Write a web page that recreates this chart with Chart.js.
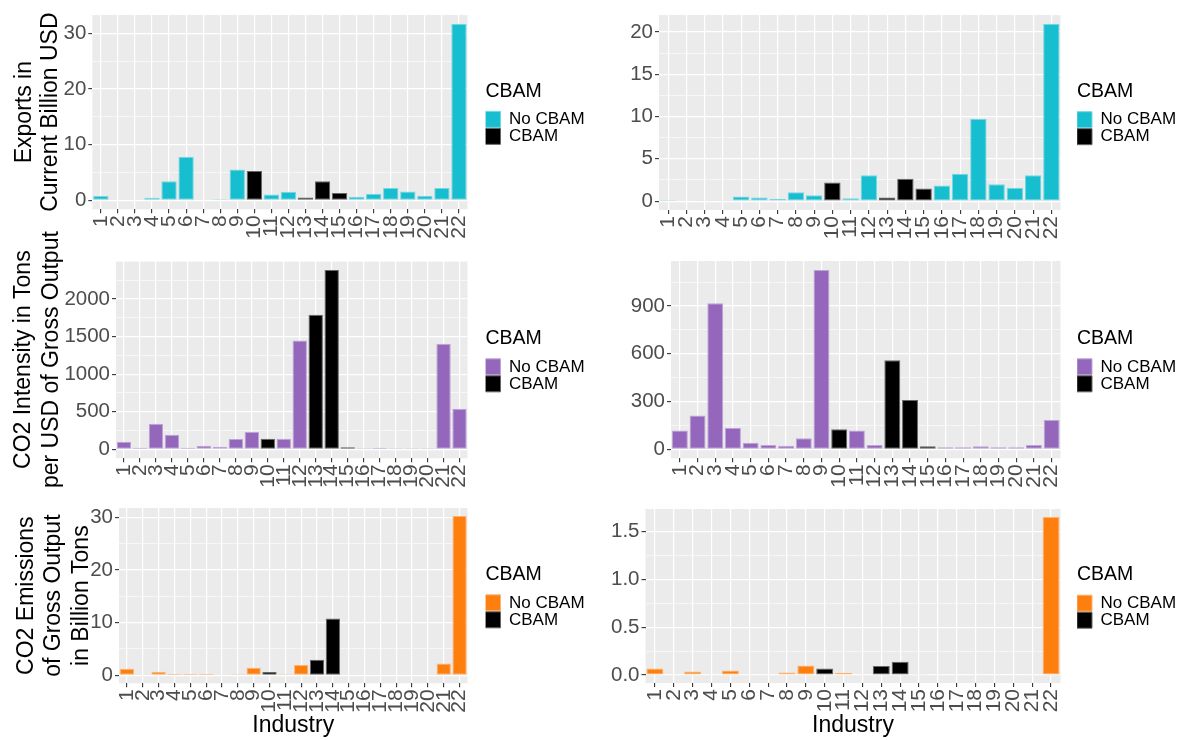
<!DOCTYPE html>
<html>
<head>
<meta charset="utf-8">
<script src="https://cdn.jsdelivr.net/npm/chart.js@4.4.1/dist/chart.umd.min.js"></script>
<style>
  html, body { margin: 0; padding: 0; background: #ffffff; }
  body { width: 1189px; height: 740px; position: relative; overflow: hidden; }
  canvas { position: absolute; top: 0; }
</style>
</head>
<body>
<canvas id="p1" width="600" height="740" style="left:0px"></canvas>
<canvas id="p2" width="589" height="740" style="left:600px"></canvas>
<canvas id="p3" width="600" height="740" style="left:0px"></canvas>
<canvas id="p4" width="589" height="740" style="left:600px"></canvas>
<canvas id="p5" width="600" height="740" style="left:0px"></canvas>
<canvas id="p6" width="589" height="740" style="left:600px"></canvas>
<script>
// industries 1..22, the CBAM ones are drawn black
const industries = ['1', '2', '3', '4', '5', '6', '7', '8', '9', '10', '11',
  '12', '13', '14', '15', '16', '17', '18', '19', '20', '21', '22'];
const cbamIndustries = ['10', '13', '14', '15'];

// exports in current billion USD
const exportsLeft = [0.8, 0, 0, 0.48, 3.45, 7.85, 0.12, 0.24, 5.55, 5.27, 1.08,
  1.56, 0.54, 3.45, 1.32, 0.66, 1.2, 2.22, 1.62, 0.84, 2.22, 31.7];
const exportsRight = [0.12, 0, 0.1, 0.1, 0.55, 0.43, 0.27, 1.06, 0.7, 2.19, 0.35,
  3.05, 0.43, 2.66, 1.49, 1.84, 3.25, 9.75, 2.0, 1.57, 3.05, 20.95];

// CO2 intensity in tons per USD of gross output
const intensityLeft = [102, 22, 341, 195, 22, 49, 35, 137, 235, 142, 142,
  1447, 1788, 2385, 27, 13, 22, 13, 13, 13, 1403, 540];
const intensityRight = [119, 213, 917, 134, 42, 27, 23, 69, 1126, 126, 119,
  27, 559, 310, 19, 13, 13, 19, 13, 13, 27, 184];

// CO2 emissions of gross output in billion tons
const emissionsLeft = [1.26, 0, 0.69, 0.25, 0.25, 0.25, 0, 0.2, 1.45, 0.63, 0.2,
  1.96, 2.97, 10.8, 0, 0, 0, 0, 0, 0, 2.27, 30.26];
const emissionsRight = [0.069, 0.01, 0.038, 0.01, 0.049, 0.01, 0.01, 0.028, 0.1, 0.07, 0.025,
  0.01, 0.094, 0.139, 0.008, 0.008, 0.008, 0.008, 0.008, 0, 0.008, 1.655];

// y tick values and labels
const exportsLeftTicks = [0, 10, 20, 30];
const exportsLeftLabels = ['0', '10', '20', '30'];
const exportsRightTicks = [0, 5, 10, 15, 20];
const exportsRightLabels = ['0', '5', '10', '15', '20'];
const intensityLeftTicks = [0, 500, 1000, 1500, 2000];
const intensityLeftLabels = ['0', '500', '1000', '1500', '2000'];
const intensityRightTicks = [0, 300, 600, 900];
const intensityRightLabels = ['0', '300', '600', '900'];
const emissionsLeftTicks = [0, 10, 20, 30];
const emissionsLeftLabels = ['0', '10', '20', '30'];
const emissionsRightTicks = [0, 0.5, 1, 1.5];
const emissionsRightLabels = ['0.0', '0.5', '1.0', '1.5'];

Chart.defaults.font.family = "'Liberation Sans', Arial, sans-serif";

const panelBg = {
  id: 'panelBg',
  beforeDraw(chart) {
    const { ctx, chartArea: a } = chart;
    ctx.save();
    ctx.fillStyle = '#EBEBEB';
    ctx.fillRect(a.left, a.top, a.right - a.left, a.bottom - a.top);
    ctx.restore();
  }
};

function makePanel(id, values, color, edge, ticks, labels, box, opts) {
  const isCbam = i => cbamIndustries.includes(industries[i]);
  const noCbam = values.map((v, i) => isCbam(i) ? null : v);
  const cbam = values.map((v, i) => isCbam(i) ? v : null);

  const top = Math.max(...values);
  const step = ticks[1] - ticks[0];
  const ymin = -0.05 * top, ymax = 1.05 * top;
  const all = [];
  for (let v = ticks[0] - step / 2; v <= ymax; v += step / 2) {
    if (v >= ymin) all.push(v);
  }
  const isMajor = v => ticks.some(t => Math.abs(t - v) < step * 1e-6);

  const canvas = document.getElementById(id);
  const H = canvas.height;
  const xHeight = opts.xTitle ? H - box.bottom : 40;
  const gap = opts.gap;

  const cfg = {
    type: 'bar',
    data: {
      labels: industries,
      datasets: [
        { label: 'No CBAM', data: noCbam, backgroundColor: color, borderColor: edge,
          borderWidth: 1, borderSkipped: false, grouped: false,
          categoryPercentage: 0.9, barPercentage: 1, xAxisID: 'x', yAxisID: 'y' },
        { label: 'CBAM', data: cbam, backgroundColor: '#000000', borderColor: '#666666',
          borderWidth: 1, borderSkipped: false, grouped: false,
          categoryPercentage: 0.9, barPercentage: 1, xAxisID: 'x', yAxisID: 'y' }
      ]
    },
    options: {
      responsive: false,
      animation: false,
      devicePixelRatio: 1,
      layout: {
        padding: { top: box.top, left: 0, bottom: H - box.bottom - xHeight,
          right: canvas.width - box.right - gap - 105 }
      },
      scales: {
        x: {
          grid: { offset: false, color: '#FFFFFF', lineWidth: 1.2, tickLength: 4,
            tickColor: '#333333', tickWidth: 1.1 },
          border: { display: false },
          ticks: { autoSkip: false, minRotation: 90, maxRotation: 90, padding: 2,
            color: '#4D4D4D', font: { size: 21 } },
          title: opts.xTitle
            ? { display: true, text: 'Industry', color: '#000000', font: { size: 23, lineHeight: 1.2 },
                padding: { top: 0, bottom: 1 } }
            : { display: false },
          afterFit(s) { s.height = xHeight; s.paddingLeft = 0; s.paddingRight = 0; }
        },
        y: {
          min: ymin,
          max: ymax,
          afterBuildTicks(s) { s.ticks = all.map(v => ({ value: v })); },
          ticks: {
            autoSkip: false, padding: 2, color: '#4D4D4D', font: { size: 20.5 },
            callback(v) {
              const i = ticks.findIndex(t => Math.abs(t - v) < step * 1e-6);
              return i >= 0 ? labels[i] : '';
            }
          },
          grid: {
            color: '#FFFFFF',
            lineWidth: c => (c.tick && isMajor(c.tick.value)) ? 1.2 : 0.6,
            tickLength: 4,
            tickWidth: 1.1,
            tickColor: c => (c.tick && isMajor(c.tick.value)) ? '#333333' : 'rgba(0,0,0,0)'
          },
          border: { display: false },
          title: opts.yTitle
            ? { display: true, text: opts.yTitle, color: '#000000',
                font: { size: 23, lineHeight: opts.titleLH },
                padding: { top: opts.titlePad, bottom: 0 } }
            : { display: false },
          afterFit(s) { s.width = box.left; s.paddingTop = 0; s.paddingBottom = 0; }
        },
        gap: {
          type: 'linear', position: 'right', display: true,
          grid: { display: false, drawTicks: false },
          border: { display: false },
          ticks: { display: false },
          afterFit(s) { s.width = gap; s.paddingTop = 0; s.paddingBottom = 0; }
        }
      },
      plugins: {
        tooltip: { enabled: false },
        legend: {
          position: 'right',
          align: 'center',
          fullSize: false,
          maxWidth: 220,
          title: { display: true, text: 'CBAM', position: 'start', color: '#000000',
            font: { size: 19.5 }, padding: { top: 2, bottom: 6 } },
          labels: { boxWidth: 15, boxHeight: 16, padding: 0, color: '#000000',
            font: { size: 17 } }
        }
      }
    },
    plugins: [panelBg]
  };

  const chart = new Chart(canvas, cfg);
  // nudge right padding so the plot panel ends where it should
  for (let k = 0; k < 4; k++) {
    const dr = chart.chartArea.right - box.right;
    if (Math.abs(dr) < 0.05) break;
    chart.options.layout.padding.right += dr;
    chart.update('none');
  }
  return chart;
}

makePanel('p1', exportsLeft, '#17BECF', '#74D8E2', exportsLeftTicks, exportsLeftLabels,
  { left: 92.3, top: 15, right: 467.5, bottom: 209.3 },
  { gap: 18, yTitle: ['Exports in', 'Current Billion USD'], titleLH: 1.1, titlePad: 12.3 });
makePanel('p2', exportsRight, '#17BECF', '#74D8E2', exportsRightTicks, exportsRightLabels,
  { left: 59, top: 15, right: 460.5, bottom: 210 },
  { gap: 16.5 });
makePanel('p3', intensityLeft, '#9467BD', '#BFA4D7', intensityLeftTicks, intensityLeftLabels,
  { left: 116, top: 261, right: 467.5, bottom: 458.3 },
  { gap: 18, yTitle: ['CO2 Intensity in Tons', 'per USD of Gross Output'], titleLH: 1.2, titlePad: 10.2 });
makePanel('p4', intensityRight, '#9467BD', '#BFA4D7', intensityRightTicks, intensityRightLabels,
  { left: 71, top: 261, right: 460.5, bottom: 458.3 },
  { gap: 16.5 });
makePanel('p5', emissionsLeft, '#FF7F0E', '#FFB26E', emissionsLeftTicks, emissionsLeftLabels,
  { left: 119, top: 508, right: 467.5, bottom: 683.3 },
  { gap: 18, yTitle: ['CO2 Emissions', 'of Gross Output', 'in Billion Tons'], titleLH: 1.2, titlePad: 12.7, xTitle: true });
makePanel('p6', emissionsRight, '#FF7F0E', '#FFB26E', emissionsRightTicks, emissionsRightLabels,
  { left: 45.5, top: 509, right: 460.5, bottom: 683 },
  { gap: 16.5, xTitle: true });
</script>
</body>
</html>
